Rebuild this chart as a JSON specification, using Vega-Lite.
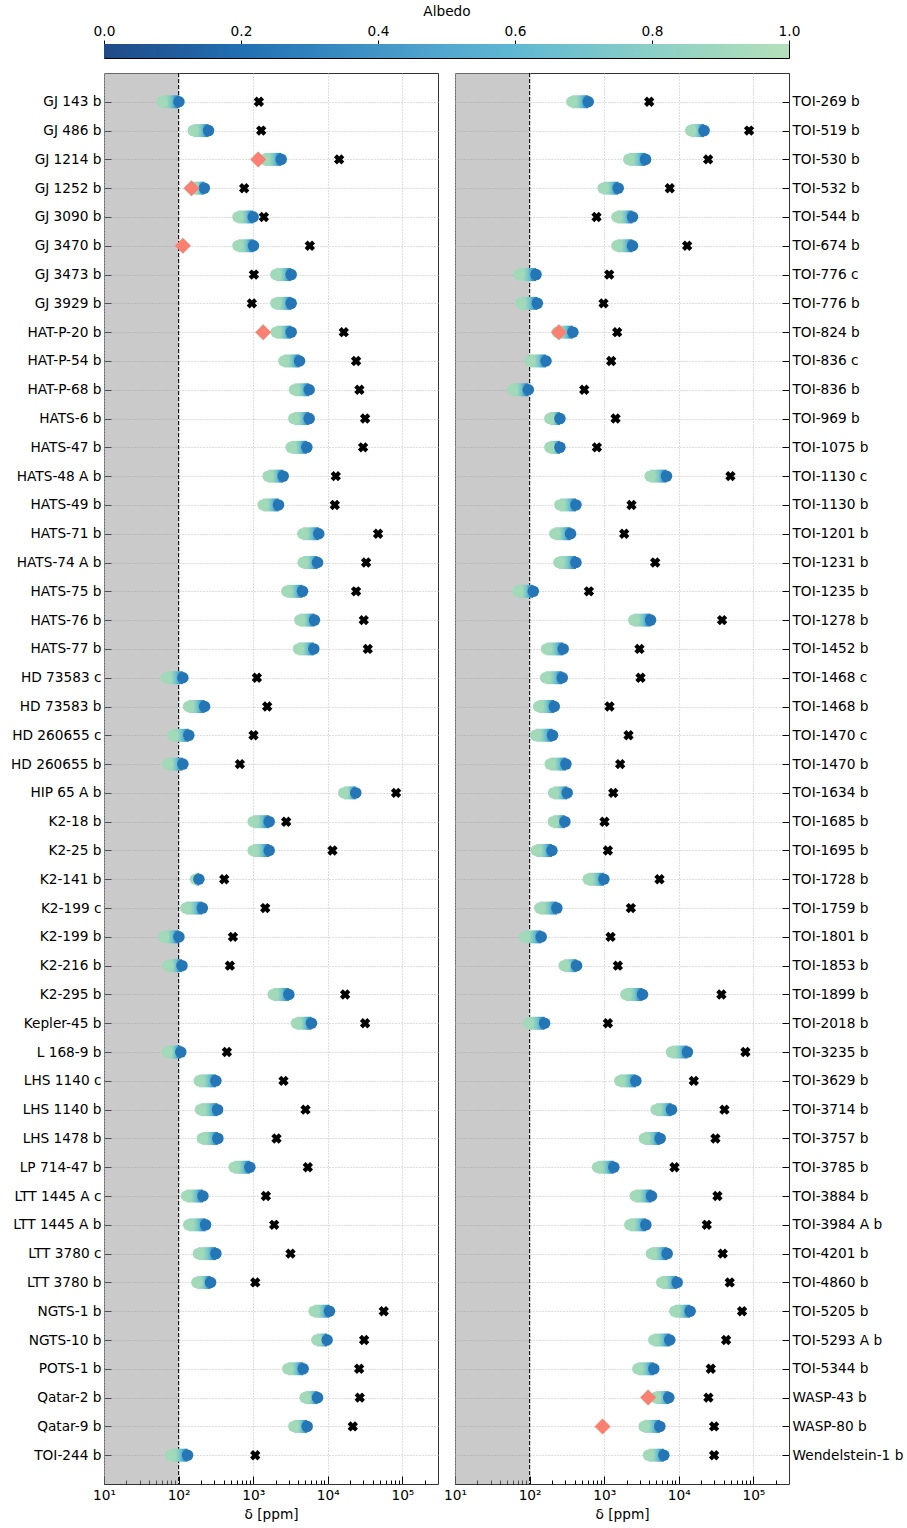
{
  "$schema": "https://vega.github.io/schema/vega-lite/v6.json",
  "padding": {"left": 10, "top": 3, "right": 2, "bottom": 4},
  "config": {
    "font": "DejaVu Sans",
    "axis": {"labelFontSize": 13.7, "titleFontSize": 13.7, "labelColor": "black", "titleColor": "black", "titleFontWeight": "normal", "tickColor": "black", "labelFont": "DejaVu Sans", "titleFont": "DejaVu Sans"}
  },
  "bounds": "flush",
  "spacing": 15,
  "datasets": {
    "cb": [{"lo": 0, "hi": 1}],
    "shade": [{"lo": 10, "hi": 100}],
    "L": [
      {"n": "GJ 143 b", "a1": 59.8, "a0": 101, "x": 1191},
      {"n": "GJ 486 b", "a1": 157, "a0": 252, "x": 1280},
      {"n": "GJ 1214 b", "a1": 1419, "a0": 2371, "x": 14190, "d": 1167},
      {"n": "GJ 1252 b", "a1": 159, "a0": 221, "x": 757, "d": 149},
      {"n": "GJ 3090 b", "a1": 624, "a0": 1000, "x": 1390},
      {"n": "GJ 3470 b", "a1": 624, "a0": 1009, "x": 5740, "d": 114},
      {"n": "GJ 3473 b", "a1": 2013, "a0": 3228, "x": 1021},
      {"n": "GJ 3929 b", "a1": 2013, "a0": 3228, "x": 960},
      {"n": "HAT-P-20 b", "a1": 2033, "a0": 3228, "x": 16370, "d": 1361},
      {"n": "HAT-P-54 b", "a1": 2576, "a0": 4181, "x": 23930},
      {"n": "HAT-P-68 b", "a1": 3581, "a0": 5623, "x": 26540},
      {"n": "HATS-6 b", "a1": 3508, "a0": 5623, "x": 31620},
      {"n": "HATS-47 b", "a1": 3228, "a0": 5236, "x": 29720},
      {"n": "HATS-48 A b", "a1": 1589, "a0": 2523, "x": 12790},
      {"n": "HATS-49 b", "a1": 1361, "a0": 2183, "x": 12410},
      {"n": "HATS-71 b", "a1": 4624, "a0": 7568, "x": 47200},
      {"n": "HATS-74 A b", "a1": 4673, "a0": 7278, "x": 32600},
      {"n": "HATS-75 b", "a1": 2825, "a0": 4581, "x": 23930},
      {"n": "HATS-76 b", "a1": 4217, "a0": 6622, "x": 30350},
      {"n": "HATS-77 b", "a1": 4046, "a0": 6494, "x": 34340},
      {"n": "HD 73583 c", "a1": 68.4, "a0": 114, "x": 1120},
      {"n": "HD 73583 b", "a1": 136, "a0": 223, "x": 1540},
      {"n": "HD 260655 c", "a1": 83.1, "a0": 137, "x": 1010},
      {"n": "HD 260655 b", "a1": 71.3, "a0": 114, "x": 663},
      {"n": "HIP 65 A b", "a1": 16370, "a0": 23710, "x": 82200},
      {"n": "K2-18 b", "a1": 1000, "a0": 1637, "x": 2768},
      {"n": "K2-25 b", "a1": 1000, "a0": 1637, "x": 11550},
      {"n": "K2-141 b", "a1": 169, "a0": 187, "x": 409},
      {"n": "K2-199 c", "a1": 125, "a0": 208, "x": 1449},
      {"n": "K2-199 b", "a1": 63, "a0": 101, "x": 535},
      {"n": "K2-216 b", "a1": 72, "a0": 111, "x": 487},
      {"n": "K2-295 b", "a1": 1854, "a0": 3006, "x": 17060},
      {"n": "Kepler-45 b", "a1": 3803, "a0": 6040, "x": 31620},
      {"n": "L 168-9 b", "a1": 70.5, "a0": 107, "x": 444},
      {"n": "LHS 1140 c", "a1": 189, "a0": 316, "x": 2547},
      {"n": "LHS 1140 b", "a1": 197, "a0": 333, "x": 5024},
      {"n": "LHS 1478 b", "a1": 208, "a0": 336, "x": 2053},
      {"n": "LP 714-47 b", "a1": 557, "a0": 902, "x": 5395},
      {"n": "LTT 1445 A c", "a1": 128, "a0": 212, "x": 1479},
      {"n": "LTT 1445 A b", "a1": 137, "a0": 230, "x": 1910},
      {"n": "LTT 3780 c", "a1": 185, "a0": 316, "x": 3162},
      {"n": "LTT 3780 b", "a1": 176, "a0": 268, "x": 1065},
      {"n": "NGTS-1 b", "a1": 6566, "a0": 10520, "x": 56230},
      {"n": "NGTS-10 b", "a1": 7130, "a0": 9795, "x": 30670},
      {"n": "POTS-1 b", "a1": 2913, "a0": 4673, "x": 26320},
      {"n": "Qatar-2 b", "a1": 4966, "a0": 7278, "x": 26830},
      {"n": "Qatar-9 b", "a1": 3508, "a0": 5286, "x": 21620},
      {"n": "TOI-244 b", "a1": 78.2, "a0": 132, "x": 1065}
    ],
    "R": [
      {"n": "TOI-269 b", "a1": 369, "a0": 611, "x": 4010},
      {"n": "TOI-519 b", "a1": 14490, "a0": 21830, "x": 87500},
      {"n": "TOI-530 b", "a1": 2138, "a0": 3581, "x": 24720},
      {"n": "TOI-532 b", "a1": 970, "a0": 1540, "x": 7568},
      {"n": "TOI-544 b", "a1": 1479, "a0": 2394, "x": 789},
      {"n": "TOI-674 b", "a1": 1479, "a0": 2394, "x": 12940},
      {"n": "TOI-776 c", "a1": 72, "a0": 122, "x": 1167},
      {"n": "TOI-776 b", "a1": 75.8, "a0": 127, "x": 980},
      {"n": "TOI-824 b", "a1": 235, "a0": 380, "x": 1494, "d": 247},
      {"n": "TOI-836 c", "a1": 101, "a0": 166, "x": 1241},
      {"n": "TOI-836 b", "a1": 59.2, "a0": 96, "x": 540},
      {"n": "TOI-969 b", "a1": 187, "a0": 255, "x": 1419},
      {"n": "TOI-1075 b", "a1": 187, "a0": 255, "x": 798},
      {"n": "TOI-1130 c", "a1": 4130, "a0": 6838, "x": 49200},
      {"n": "TOI-1130 b", "a1": 255, "a0": 418, "x": 2323},
      {"n": "TOI-1201 b", "a1": 218, "a0": 354, "x": 1854},
      {"n": "TOI-1231 b", "a1": 247, "a0": 418, "x": 4820},
      {"n": "TOI-1235 b", "a1": 69.8, "a0": 112, "x": 624},
      {"n": "TOI-1278 b", "a1": 2495, "a0": 4181, "x": 38020},
      {"n": "TOI-1452 b", "a1": 169, "a0": 282, "x": 2972},
      {"n": "TOI-1468 c", "a1": 164, "a0": 274, "x": 3068},
      {"n": "TOI-1468 b", "a1": 132, "a0": 214, "x": 1179},
      {"n": "TOI-1470 c", "a1": 120, "a0": 203, "x": 2119},
      {"n": "TOI-1470 b", "a1": 189, "a0": 307, "x": 1637},
      {"n": "TOI-1634 b", "a1": 210, "a0": 319, "x": 1322},
      {"n": "TOI-1685 b", "a1": 208, "a0": 297, "x": 1009},
      {"n": "TOI-1695 b", "a1": 123, "a0": 199, "x": 1120},
      {"n": "TOI-1728 b", "a1": 611, "a0": 991, "x": 5508},
      {"n": "TOI-1759 b", "a1": 137, "a0": 232, "x": 2276},
      {"n": "TOI-1801 b", "a1": 85.7, "a0": 143, "x": 1217},
      {"n": "TOI-1853 b", "a1": 291, "a0": 426, "x": 1524},
      {"n": "TOI-1899 b", "a1": 1950, "a0": 3260, "x": 37260},
      {"n": "TOI-2018 b", "a1": 96, "a0": 159, "x": 1120},
      {"n": "TOI-3235 b", "a1": 7980, "a0": 13060, "x": 78150},
      {"n": "TOI-3629 b", "a1": 1622, "a0": 2655, "x": 15880},
      {"n": "TOI-3714 b", "a1": 4966, "a0": 7980, "x": 40930},
      {"n": "TOI-3757 b", "a1": 3467, "a0": 5623, "x": 30980},
      {"n": "TOI-3785 b", "a1": 815, "a0": 1346, "x": 8750},
      {"n": "TOI-3884 b", "a1": 2601, "a0": 4305, "x": 32960},
      {"n": "TOI-3984 A b", "a1": 2207, "a0": 3615, "x": 23710},
      {"n": "TOI-4201 b", "a1": 4305, "a0": 6980, "x": 38820},
      {"n": "TOI-4860 b", "a1": 5913, "a0": 9506, "x": 48190},
      {"n": "TOI-5205 b", "a1": 8830, "a0": 14190, "x": 70470},
      {"n": "TOI-5293 A b", "a1": 4624, "a0": 7568, "x": 43050},
      {"n": "TOI-5344 b", "a1": 2825, "a0": 4624, "x": 26830},
      {"n": "WASP-43 b", "a1": 4870, "a0": 7345, "x": 24950, "d": 3883},
      {"n": "WASP-80 b", "a1": 3434, "a0": 5572, "x": 29720, "d": 951},
      {"n": "Wendelstein-1 b", "a1": 3927, "a0": 6295, "x": 29720}
    ]
  },
  "vconcat": [
    {
      "width": 685,
      "height": 14,
      "data": {"name": "cb"},
      "view": {"stroke": "black", "strokeWidth": 1},
      "mark": {"type": "rect", "fill": {"gradient": "linear", "x1": 0, "y1": 0, "x2": 1, "y2": 0, "stops": [
        {"offset": 0, "color": "#1f4b87"},
        {"offset": 0.1, "color": "#215c9b"},
        {"offset": 0.2, "color": "#2170b2"},
        {"offset": 0.3, "color": "#3082bd"},
        {"offset": 0.4, "color": "#4295c5"},
        {"offset": 0.5, "color": "#53a8cf"},
        {"offset": 0.6, "color": "#5fb8d2"},
        {"offset": 0.7, "color": "#74c4cd"},
        {"offset": 0.8, "color": "#8ccfc6"},
        {"offset": 0.9, "color": "#a0d8bf"},
        {"offset": 1, "color": "#b4e1bb"}
      ]}},
      "encoding": {
        "x": {"field": "lo", "type": "quantitative", "scale": {"domain": [0, 1], "nice": false},
          "axis": {"orient": "top", "values": [0, 0.2, 0.4, 0.6, 0.8, 1], "format": ".1f", "title": "Albedo", "titlePadding": 6, "tickSize": 4, "labelPadding": 2, "grid": false, "domain": false, "labelFlush": false}},
        "x2": {"field": "hi"}
      }
    },
    {
      "bounds": "flush",
      "spacing": 17,
      "hconcat": [
        {
          "width": 334,
          "height": 1411,
          "view": {"stroke": "#333", "strokeWidth": 1},
          "resolve": {"axis": {"x": "independent"}},
          "layer": [
            {
              "data": {"name": "shade"},
              "mark": {"type": "rect", "fill": "#9a9a9a", "opacity": 0.52},
              "encoding": {
                "x": {"field": "lo", "type": "quantitative", "scale": {"type": "log", "domain": [10, 300000], "nice": false}, "axis": null},
                "x2": {"field": "hi"}
              }
            },
            {
              "data": {"name": "shade"},
              "mark": {"type": "rule", "color": "black", "strokeDash": [4, 2], "strokeWidth": 1},
              "encoding": {
                "x": {"field": "hi", "type": "quantitative", "axis": null}
              }
            },
            {
              "data": {"name": "L"},
              "mark": {"type": "bar", "size": 13, "stroke": null, "fill": {"gradient": "linear", "x1": 0, "y1": 0, "x2": 1, "y2": 0, "stops": [
                {"offset": 0, "color": "#a1d9b9"},
                {"offset": 0.3, "color": "#9ad6bc"},
                {"offset": 0.5, "color": "#7fc9c5"},
                {"offset": 0.65, "color": "#5db6cf"},
                {"offset": 0.8, "color": "#3b96c6"},
                {"offset": 0.92, "color": "#2a80ba"},
                {"offset": 1, "color": "#2476b6"}
              ]}},
              "encoding": {
                "x": {"field": "a1", "type": "quantitative",
                  "axis": {"orient": "bottom", "values": [10, 100, 1000, 10000, 100000], "labelExpr": "'10' + ['⁰','¹','²','³','⁴','⁵','⁶'][round(log(datum.value)/LN10)]", "title": "δ [ppm]", "grid": true, "gridDash": [1, 2], "gridColor": "#bdbdbd", "tickSize": -8, "domain": false, "labelPadding": 12, "titlePadding": 6, "labelFlush": false}},
                "x2": {"field": "a0"},
                "y": {"field": "n", "type": "nominal", "sort": null,
                  "scale": {"type": "point", "padding": 1, "domain": ["GJ 143 b", "GJ 486 b", "GJ 1214 b", "GJ 1252 b", "GJ 3090 b", "GJ 3470 b", "GJ 3473 b", "GJ 3929 b", "HAT-P-20 b", "HAT-P-54 b", "HAT-P-68 b", "HATS-6 b", "HATS-47 b", "HATS-48 A b", "HATS-49 b", "HATS-71 b", "HATS-74 A b", "HATS-75 b", "HATS-76 b", "HATS-77 b", "HD 73583 c", "HD 73583 b", "HD 260655 c", "HD 260655 b", "HIP 65 A b", "K2-18 b", "K2-25 b", "K2-141 b", "K2-199 c", "K2-199 b", "K2-216 b", "K2-295 b", "Kepler-45 b", "L 168-9 b", "LHS 1140 c", "LHS 1140 b", "LHS 1478 b", "LP 714-47 b", "LTT 1445 A c", "LTT 1445 A b", "LTT 3780 c", "LTT 3780 b", "NGTS-1 b", "NGTS-10 b", "POTS-1 b", "Qatar-2 b", "Qatar-9 b", "TOI-244 b"]},
                  "axis": {"orient": "left", "title": null, "grid": true, "gridDash": [1, 2], "gridColor": "#bdbdbd", "tickSize": -7, "labelPadding": 10, "domain": false}}
              }
            },
            {
              "data": {"name": "L"},
              "mark": {"type": "circle", "size": 133, "opacity": 1, "color": "#a1d9b9"},
              "encoding": {
                "x": {"field": "a1", "type": "quantitative",
                  "axis": {"orient": "bottom", "values": [20, 30, 40, 50, 60, 70, 80, 90, 200, 300, 400, 500, 600, 700, 800, 900, 2000, 3000, 4000, 5000, 6000, 7000, 8000, 9000, 20000, 30000, 40000, 50000, 60000, 70000, 80000, 90000, 200000], "labels": false, "grid": false, "tickSize": -4, "domain": false, "title": null}},
                "y": {"field": "n", "type": "nominal", "sort": null}
              }
            },
            {
              "data": {"name": "L"},
              "mark": {"type": "circle", "size": 133, "opacity": 1, "color": "#2476b6"},
              "encoding": {
                "x": {"field": "a0", "type": "quantitative", "axis": null},
                "y": {"field": "n", "type": "nominal", "sort": null}
              }
            },
            {
              "data": {"name": "L"},
              "mark": {"type": "point", "shape": "cross", "angle": 45, "filled": true, "color": "black", "size": 110, "opacity": 1},
              "encoding": {
                "x": {"field": "x", "type": "quantitative", "axis": null},
                "y": {"field": "n", "type": "nominal", "sort": null}
              }
            },
            {
              "data": {"name": "L"},
              "mark": {"type": "point", "shape": "diamond", "filled": true, "color": "#fa8072", "size": 256, "opacity": 1},
              "encoding": {
                "x": {"field": "d", "type": "quantitative", "axis": null},
                "y": {"field": "n", "type": "nominal", "sort": null}
              }
            }
          ]
        },
        {
          "width": 334,
          "height": 1411,
          "view": {"stroke": "#333", "strokeWidth": 1},
          "resolve": {"axis": {"x": "independent"}},
          "layer": [
            {
              "data": {"name": "shade"},
              "mark": {"type": "rect", "fill": "#9a9a9a", "opacity": 0.52},
              "encoding": {
                "x": {"field": "lo", "type": "quantitative", "scale": {"type": "log", "domain": [10, 300000], "nice": false}, "axis": null},
                "x2": {"field": "hi"}
              }
            },
            {
              "data": {"name": "shade"},
              "mark": {"type": "rule", "color": "black", "strokeDash": [4, 2], "strokeWidth": 1},
              "encoding": {
                "x": {"field": "hi", "type": "quantitative", "axis": null}
              }
            },
            {
              "data": {"name": "R"},
              "mark": {"type": "bar", "size": 13, "stroke": null, "fill": {"gradient": "linear", "x1": 0, "y1": 0, "x2": 1, "y2": 0, "stops": [
                {"offset": 0, "color": "#a1d9b9"},
                {"offset": 0.3, "color": "#9ad6bc"},
                {"offset": 0.5, "color": "#7fc9c5"},
                {"offset": 0.65, "color": "#5db6cf"},
                {"offset": 0.8, "color": "#3b96c6"},
                {"offset": 0.92, "color": "#2a80ba"},
                {"offset": 1, "color": "#2476b6"}
              ]}},
              "encoding": {
                "x": {"field": "a1", "type": "quantitative",
                  "axis": {"orient": "bottom", "values": [10, 100, 1000, 10000, 100000], "labelExpr": "'10' + ['⁰','¹','²','³','⁴','⁵','⁶'][round(log(datum.value)/LN10)]", "title": "δ [ppm]", "grid": true, "gridDash": [1, 2], "gridColor": "#bdbdbd", "tickSize": -8, "domain": false, "labelPadding": 12, "titlePadding": 6, "labelFlush": false}},
                "x2": {"field": "a0"},
                "y": {"field": "n", "type": "nominal", "sort": null,
                  "scale": {"type": "point", "padding": 1, "domain": ["TOI-269 b", "TOI-519 b", "TOI-530 b", "TOI-532 b", "TOI-544 b", "TOI-674 b", "TOI-776 c", "TOI-776 b", "TOI-824 b", "TOI-836 c", "TOI-836 b", "TOI-969 b", "TOI-1075 b", "TOI-1130 c", "TOI-1130 b", "TOI-1201 b", "TOI-1231 b", "TOI-1235 b", "TOI-1278 b", "TOI-1452 b", "TOI-1468 c", "TOI-1468 b", "TOI-1470 c", "TOI-1470 b", "TOI-1634 b", "TOI-1685 b", "TOI-1695 b", "TOI-1728 b", "TOI-1759 b", "TOI-1801 b", "TOI-1853 b", "TOI-1899 b", "TOI-2018 b", "TOI-3235 b", "TOI-3629 b", "TOI-3714 b", "TOI-3757 b", "TOI-3785 b", "TOI-3884 b", "TOI-3984 A b", "TOI-4201 b", "TOI-4860 b", "TOI-5205 b", "TOI-5293 A b", "TOI-5344 b", "WASP-43 b", "WASP-80 b", "Wendelstein-1 b"]},
                  "axis": {"orient": "right", "title": null, "grid": true, "gridDash": [1, 2], "gridColor": "#bdbdbd", "tickSize": -7, "labelPadding": 10, "domain": false}}
              }
            },
            {
              "data": {"name": "R"},
              "mark": {"type": "circle", "size": 133, "opacity": 1, "color": "#a1d9b9"},
              "encoding": {
                "x": {"field": "a1", "type": "quantitative",
                  "axis": {"orient": "bottom", "values": [20, 30, 40, 50, 60, 70, 80, 90, 200, 300, 400, 500, 600, 700, 800, 900, 2000, 3000, 4000, 5000, 6000, 7000, 8000, 9000, 20000, 30000, 40000, 50000, 60000, 70000, 80000, 90000, 200000], "labels": false, "grid": false, "tickSize": -4, "domain": false, "title": null}},
                "y": {"field": "n", "type": "nominal", "sort": null}
              }
            },
            {
              "data": {"name": "R"},
              "mark": {"type": "circle", "size": 133, "opacity": 1, "color": "#2476b6"},
              "encoding": {
                "x": {"field": "a0", "type": "quantitative", "axis": null},
                "y": {"field": "n", "type": "nominal", "sort": null}
              }
            },
            {
              "data": {"name": "R"},
              "mark": {"type": "point", "shape": "cross", "angle": 45, "filled": true, "color": "black", "size": 110, "opacity": 1},
              "encoding": {
                "x": {"field": "x", "type": "quantitative", "axis": null},
                "y": {"field": "n", "type": "nominal", "sort": null}
              }
            },
            {
              "data": {"name": "R"},
              "mark": {"type": "point", "shape": "diamond", "filled": true, "color": "#fa8072", "size": 256, "opacity": 1},
              "encoding": {
                "x": {"field": "d", "type": "quantitative", "axis": null},
                "y": {"field": "n", "type": "nominal", "sort": null}
              }
            }
          ]
        }
      ]
    }
  ]
}
